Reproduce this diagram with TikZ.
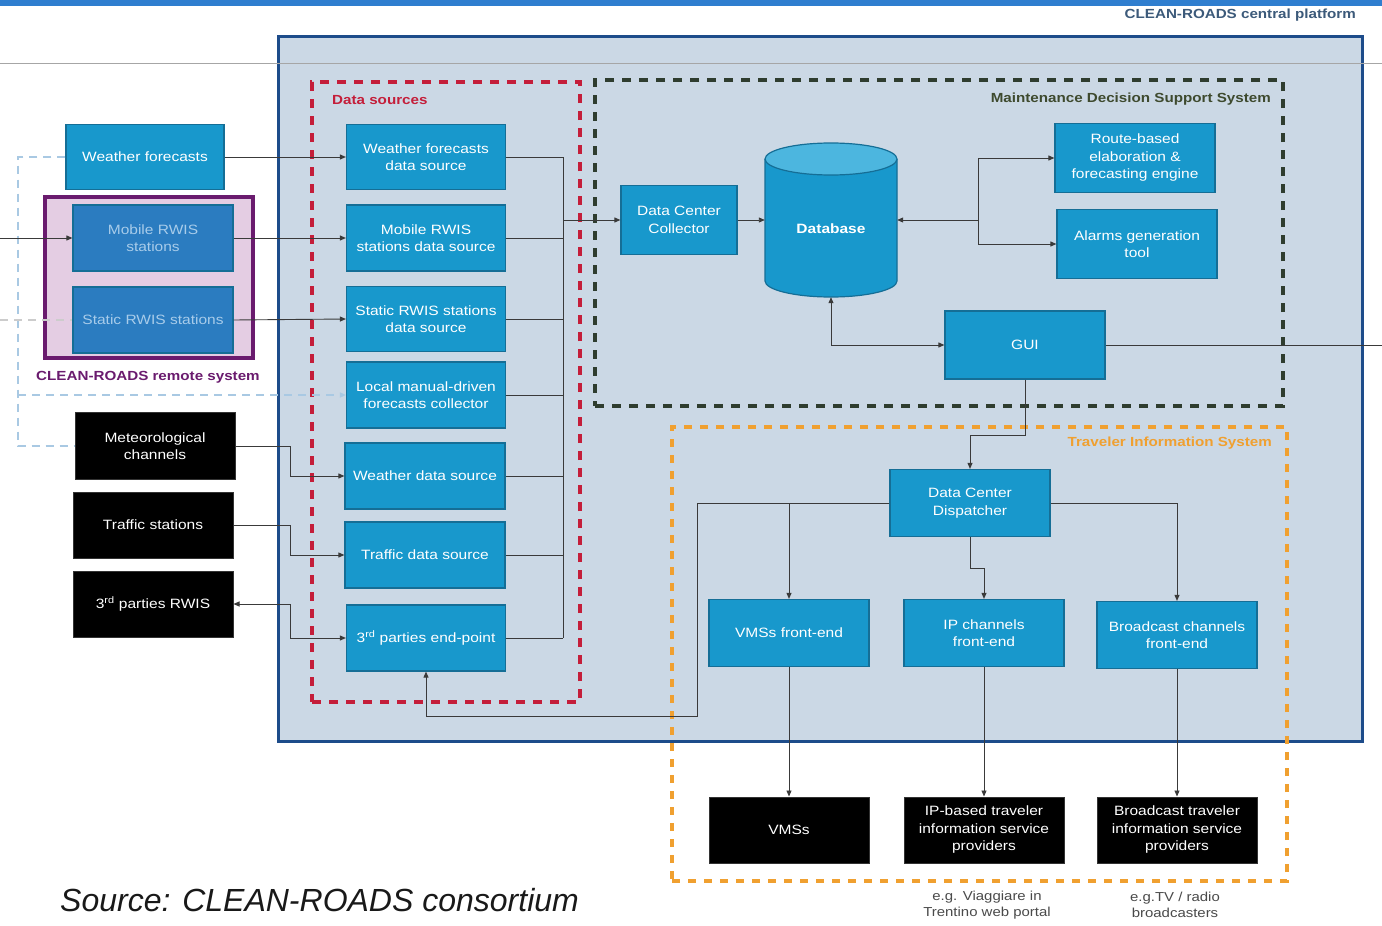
\documentclass[tikz,border=0pt]{standalone}
\usepackage{fontspec}
\setmainfont{Liberation Sans}
\newfontfamily\diagfont{Liberation Sans}[FakeStretch=1.15]
\usetikzlibrary{arrows.meta}
\definecolor{band}{HTML}{2F7ECF}
\definecolor{platfill}{HTML}{CBD8E5}
\definecolor{platedge}{HTML}{1D4C8A}
\definecolor{nodeblue}{HTML}{1898CC}
\definecolor{nodeedge}{HTML}{156E96}
\definecolor{dbtop}{HTML}{4CB6DF}
\definecolor{remfill}{HTML}{2B7CC0}
\definecolor{remtext}{HTML}{A8CCEA}
\definecolor{rembox}{HTML}{E4CDE3}
\definecolor{remedge}{HTML}{6A1B6E}
\definecolor{dsred}{HTML}{C41E3A}
\definecolor{mdssgreen}{HTML}{2F3D2F}
\definecolor{mdsslabel}{HTML}{3E4A2E}
\definecolor{tisorange}{HTML}{F0A030}
\definecolor{linecol}{HTML}{3A3A3A}
\definecolor{ldashcol}{HTML}{A9C9E3}
\definecolor{notegrey}{HTML}{4A4A4A}
\definecolor{platlabel}{HTML}{3C5A7A}
\begin{document}
\begin{tikzpicture}[x=1pt,y=-1pt,
  nfont/.style={font=\diagfont\fontsize{13.5}{17.5}\selectfont},
  bluebox/.style={nfont, rectangle, fill=nodeblue, draw=nodeedge, line width=1.2pt, text=white, align=center, inner sep=1pt, minimum width=160pt, minimum height=66pt},
  rembx/.style={bluebox, fill=remfill, text=remtext},
  blackbox/.style={nfont, rectangle, fill=black, draw=black!80, line width=1pt, text=white, align=center, inner sep=1pt, minimum width=160pt, minimum height=66pt},
  groupbox/.style={rectangle, line width=4pt, dash pattern=on 9pt off 8pt, inner sep=0pt},
  grouplabel/.style={font=\diagfont\bfseries\fontsize{13.2}{15}\selectfont, inner sep=0pt},
  line/.style={draw=linecol, line width=0.9pt},
  arr/.style={line, -{Triangle[length=6pt,width=5pt]}},
  arrtwo/.style={line, {Triangle[length=6pt,width=5pt]}-{Triangle[length=6pt,width=5pt]}},
  ldash/.style={draw=ldashcol, line width=1.6pt, dash pattern=on 8pt off 6pt},
  note/.style={font=\diagfont\fontsize{13}{16}\selectfont, text=notegrey, align=center, inner sep=0pt}
]
\useasboundingbox (0,0) rectangle (1382,926);
\fill[white] (0,0) rectangle (1382,926);
\fill[band] (0,0) rectangle (1382,6);

% central platform
\node[rectangle, fill=platfill, draw=platedge, line width=3pt, minimum width=1084pt, minimum height=705pt, inner sep=0pt] (plat) at (820,388.5) {};
\coordinate (hl) at (0,63);
\coordinate (hr) at (1382,63);
\draw[gray!70, line width=0.8pt] (hl) -- (hr);
\node[grouplabel, text=platlabel, anchor=east] (platlbl) at (1356,15) {CLEAN-ROADS central platform};

% remote system box
\node[rectangle, fill=rembox, draw=remedge, line width=4pt, minimum width=208pt, minimum height=161pt, inner sep=0pt] (remote) at (149,277.5) {};
\node[grouplabel, text=remedge] (remlbl) at (148,377) {CLEAN-ROADS remote system};

% group boxes
\node[groupbox, draw=dsred, minimum width=268pt, minimum height=620pt] (dsbox) at (446,392) {};
\node[grouplabel, text=dsred, anchor=west] (dslbl) at (332,100) {Data sources};
\node[groupbox, draw=mdssgreen, minimum width=688pt, minimum height=326pt] (mdssbox) at (939,243) {};
\node[grouplabel, text=mdsslabel, anchor=east] (mdsslbl) at (1271,99) {Maintenance Decision Support System};
\node[groupbox, draw=tisorange, dash pattern=on 8pt off 8pt, minimum width=615pt, minimum height=454pt] (tisbox) at (979.5,654) {};
\node[grouplabel, text=tisorange, anchor=east] (tislbl) at (1272,443) {Traveler Information System};

% ---- coordinates for free ends and bends ----
\coordinate (lx) at (18,0);
\coordinate (mrin) at (0,238);
\coordinate (srin) at (0,320);
\coordinate (jx) at (290,0);
\coordinate (bus) at (563,220);
\coordinate (fork) at (978,220);
\coordinate (guiout) at (1382,345);
\coordinate (gd) at (0,435);
\coordinate (lb) at (697,716);
\coordinate (ipj) at (0,568);

% left nodes
\node[bluebox, minimum width=158pt, minimum height=65pt] (wf) at (145,157) {Weather forecasts};
\node[rembx] (mrws) at (153,238) {Mobile RWIS\\stations};
\node[rembx] (srws) at (153,320) {Static RWIS stations};
\node[blackbox, minimum height=67pt] (met) at (155,446) {Meteorological\\channels};
\node[blackbox] (trs) at (153,525) {Traffic stations};
\node[blackbox] (tpr) at (153,604) {3\textsuperscript{rd} parties RWIS};

% data sources
\node[bluebox, minimum width=159pt, minimum height=65pt] (wfds) at (426,157) {Weather forecasts\\data source};
\node[bluebox, minimum width=159pt] (mrds) at (426,238) {Mobile RWIS\\stations data source};
\node[bluebox, minimum width=159pt, minimum height=65pt] (srds) at (426,319) {Static RWIS stations\\data source};
\node[bluebox, minimum width=159pt] (lmf) at (426,395) {Local manual-driven\\forecasts collector};
\node[bluebox] (wds) at (425,476) {Weather data source};
\node[bluebox] (tds) at (425,555) {Traffic data source};
\node[bluebox, minimum width=159pt] (tpe) at (426,638) {3\textsuperscript{rd} parties end-point};

% MDSS
\node[bluebox, minimum width=116pt, minimum height=69pt] (dcc) at (679,220) {Data Center\\Collector};
\node[minimum width=132pt, minimum height=154pt, inner sep=0pt] (db) at (831,220) {};
\filldraw[fill=nodeblue, draw=nodeedge, line width=1.2pt] (765,159) -- (765,281) arc[start angle=180, end angle=0, x radius=66, y radius=16] -- (897,159);
\filldraw[fill=dbtop, draw=nodeedge, line width=1.2pt] (831,159) ellipse[x radius=66, y radius=16];
\node[font=\diagfont\bfseries\fontsize{13.5}{16}\selectfont, text=white] (dblbl) at (831,229) {Database};
\node[bluebox, minimum height=69pt] (rbe) at (1135,158) {Route-based\\elaboration \&\\forecasting engine};
\node[bluebox, minimum height=69pt] (agt) at (1137,244) {Alarms generation\\tool};
\node[bluebox, minimum height=68pt] (gui) at (1025,345) {GUI};

% TIS
\node[bluebox, minimum height=67pt] (dcd) at (970,503) {Data Center\\Dispatcher};
\node[bluebox, minimum height=67pt] (vfe) at (789,633) {VMSs front-end};
\node[bluebox, minimum height=67pt] (ipfe) at (984,633) {IP channels\\front-end};
\node[bluebox, minimum height=67pt] (bcfe) at (1177,635) {Broadcast channels\\front-end};
\node[blackbox] (vms) at (789,830) {VMSs};
\node[blackbox] (ipsp) at (984,830) {IP-based traveler\\information service\\providers};
\node[blackbox] (bcsp) at (1177,830) {Broadcast traveler\\information service\\providers};
\node[note] (note1) at (987,905) {e.g. Viaggiare in\\Trentino web portal};
\node[note] (note2) at (1175,905) {e.g.TV / radio\\broadcasters};

\node[anchor=west, font=\itshape\fontsize{32}{36}\selectfont, text=black!90, inner sep=0pt] (src) at (60,900) {Source: CLEAN-ROADS consortium};

% ---- connectors ----
\draw[ldash] (wf.west) -- (wf.west -| lx) -- (met.west -| lx) -- (met.west);
\draw[ldash, -{Triangle[length=6pt,width=5pt]}] (lmf.west -| lx) -- (lmf.west);
\draw[ldash, draw=gray!40] (srin) -- (srws.west);
\draw[arr] (mrin) -- (mrws.west);

\draw[arr] (wf.east) -- (wfds.west);
\draw[arr] (mrws.east) -- (mrds.west);
\draw[arr] (srws.east) -- (srds.west);
\draw[arr] (met.east) -- (met.east -| jx) |- (wds.west);
\draw[arr] (trs.east) -- (trs.east -| jx) |- (tds.west);
\draw[arrtwo] (tpr.east) -- (tpr.east -| jx) |- (tpe.west);

\foreach \n in {wfds,mrds,srds,lmf,wds,tds,tpe} \draw[line] (\n.east) -- (\n.east -| bus);
\draw[line] (wfds.east -| bus) -- (tpe.east -| bus);
\draw[arr] (bus) -- (dcc.west);
\draw[arr] (dcc.east) -- (db.west);
\draw[arr] (fork) -- (db.east);
\draw[line] (fork |- rbe.west) -- (fork |- agt.west);
\draw[arr] (fork |- rbe.west) -- (rbe.west);
\draw[arr] (fork |- agt.west) -- (agt.west);
\draw[arrtwo] (db.south) |- (gui.west);
\draw[line] (gui.east) -- (guiout);
\draw[arr] (gui.south) -- (gui.south |- gd) -| (dcd.north);

\draw[arr] (dcd.west) -| (vfe.north);
\draw[arr] (dcd.west) -- (dcd.west -| lb) -- (lb) -| (tpe.south);
\draw[arr] (dcd.south) -- (dcd.south |- ipj) -| (ipfe.north);
\draw[arr] (dcd.east) -| (bcfe.north);
\draw[arr] (vfe.south) -- (vms.north);
\draw[arr] (ipfe.south) -- (ipsp.north);
\draw[arr] (bcfe.south) -- (bcsp.north);
\end{tikzpicture}
\end{document}
